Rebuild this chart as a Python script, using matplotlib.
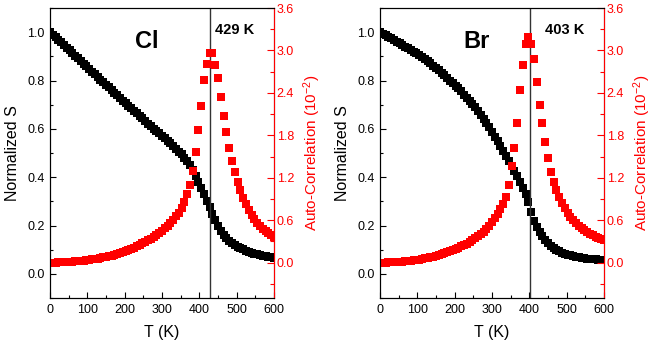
import matplotlib
matplotlib.use("Agg")
import matplotlib.pyplot as plt
from matplotlib.ticker import MultipleLocator

plt.rcParams['font.family'] = ['Liberation Sans', 'DejaVu Sans']
plt.rcParams['mathtext.fontset'] = 'custom'
plt.rcParams['mathtext.rm'] = 'Liberation Sans'
plt.rcParams['mathtext.it'] = 'Liberation Sans:italic'

# temperature grid (K)
temps = [0, 7.5, 15, 22.5, 30, 37.5, 45, 52.5, 60, 67.5,
         75, 82.5, 90, 97.5, 105, 112.5, 120, 127.5, 135, 142.5,
         150, 157.5, 165, 172.5, 180, 187.5, 195, 202.5, 210, 217.5,
         225, 232.5, 240, 247.5, 255, 262.5, 270, 277.5, 285, 292.5,
         300, 307.5, 315, 322.5, 330, 337.5, 345, 352.5, 360, 367.5,
         375, 382.5, 390, 397.5, 405, 412.5, 420, 427.5, 435, 442.5,
         450, 457.5, 465, 472.5, 480, 487.5, 495, 502.5, 510, 517.5,
         525, 532.5, 540, 547.5, 555, 562.5, 570, 577.5, 585, 592.5,
         600]

# Cl: normalized S and auto-correlation (10^-2)
s_cl = [1.000, 0.990, 0.980, 0.969, 0.958, 0.947, 0.936, 0.925, 0.914, 0.903,
        0.892, 0.881, 0.870, 0.859, 0.848, 0.837, 0.826, 0.815, 0.804, 0.794,
        0.783, 0.772, 0.761, 0.750, 0.739, 0.728, 0.717, 0.706, 0.695, 0.685,
        0.674, 0.664, 0.653, 0.643, 0.632, 0.622, 0.611, 0.601, 0.591, 0.581,
        0.571, 0.561, 0.551, 0.541, 0.530, 0.518, 0.506, 0.494, 0.481, 0.466,
        0.449, 0.428, 0.404, 0.380, 0.355, 0.329, 0.302, 0.275, 0.248, 0.222,
        0.198, 0.178, 0.161, 0.147, 0.136, 0.127, 0.119, 0.112, 0.106, 0.101,
        0.096, 0.092, 0.088, 0.084, 0.081, 0.078, 0.075, 0.073, 0.070, 0.068,
        0.066]
ac_cl = [0.000, 0.000, 0.001, 0.003, 0.005, 0.007, 0.009, 0.012, 0.015, 0.018,
         0.021, 0.025, 0.029, 0.034, 0.039, 0.045, 0.051, 0.058, 0.065, 0.073,
         0.081, 0.090, 0.100, 0.111, 0.123, 0.136, 0.150, 0.165, 0.181, 0.197,
         0.214, 0.232, 0.251, 0.271, 0.292, 0.315, 0.339, 0.364, 0.391, 0.420,
         0.452, 0.486, 0.523, 0.563, 0.607, 0.655, 0.708, 0.775, 0.860, 0.970,
         1.100, 1.290, 1.560, 1.870, 2.210, 2.580, 2.810, 2.960, 2.960, 2.800,
         2.610, 2.340, 2.070, 1.840, 1.620, 1.430, 1.280, 1.140, 1.020, 0.915,
         0.825, 0.748, 0.680, 0.620, 0.566, 0.520, 0.480, 0.445, 0.415, 0.388,
         0.365]

# Br: normalized S and auto-correlation (10^-2)
s_br = [1.000, 0.994, 0.988, 0.982, 0.975, 0.968, 0.961, 0.954, 0.947, 0.940,
        0.933, 0.927, 0.919, 0.912, 0.904, 0.896, 0.888, 0.880, 0.871, 0.862,
        0.852, 0.843, 0.833, 0.822, 0.811, 0.800, 0.789, 0.778, 0.767, 0.755,
        0.742, 0.729, 0.716, 0.703, 0.689, 0.673, 0.657, 0.640, 0.623, 0.606,
        0.588, 0.568, 0.548, 0.529, 0.509, 0.489, 0.469, 0.447, 0.426, 0.405,
        0.381, 0.357, 0.330, 0.296, 0.255, 0.220, 0.195, 0.174, 0.155, 0.139,
        0.126, 0.115, 0.107, 0.100, 0.093, 0.088, 0.084, 0.080, 0.077, 0.074,
        0.071, 0.069, 0.067, 0.065, 0.063, 0.062, 0.061, 0.060, 0.059, 0.058,
        0.058]
ac_br = [0.000, 0.000, 0.002, 0.004, 0.006, 0.008, 0.010, 0.013, 0.016, 0.019,
         0.023, 0.027, 0.033, 0.038, 0.044, 0.051, 0.059, 0.067, 0.076, 0.085,
         0.095, 0.106, 0.118, 0.131, 0.145, 0.160, 0.176, 0.193, 0.212, 0.232,
         0.245, 0.267, 0.290, 0.315, 0.342, 0.372, 0.405, 0.440, 0.480, 0.525,
         0.572, 0.626, 0.690, 0.760, 0.830, 0.935, 1.100, 1.370, 1.625, 1.970,
         2.440, 2.800, 3.090, 3.190, 3.090, 2.880, 2.550, 2.235, 1.970, 1.700,
         1.480, 1.286, 1.136, 1.030, 0.935, 0.850, 0.775, 0.708, 0.650, 0.600,
         0.556, 0.518, 0.484, 0.455, 0.429, 0.406, 0.386, 0.368, 0.352, 0.338,
         0.325]

tc_cl = 429
tc_br = 403


def desenhar_painel(fig, pos, s, ac, tc, nome):
    ax = fig.add_axes(pos)
    ax.plot(temps, s, 's', color='black', markersize=6.3, markeredgewidth=0)
    ax.axvline(tc, color='#333333', lw=1.0)

    ax.set_xlim(0, 600)
    ax.set_ylim(-0.1, 1.1)
    ax.xaxis.set_major_locator(MultipleLocator(100))
    ax.xaxis.set_minor_locator(MultipleLocator(50))
    ax.yaxis.set_major_locator(MultipleLocator(0.2))
    ax.yaxis.set_minor_locator(MultipleLocator(0.1))
    ax.yaxis.set_major_formatter('{x:.1f}')
    ax.tick_params(which='both', direction='in', top=False, right=False,
                   labelsize=9, width=0.8)
    ax.tick_params(which='major', length=4, pad=4)
    ax.tick_params(which='minor', length=2.5)
    ax.set_xlabel('T (K)', fontsize=11.5, labelpad=7)
    ax.set_ylabel('Normalized S', fontsize=11.5, labelpad=5)
    for sp in ax.spines.values():
        sp.set_linewidth(0.8)

    ax.text(260, 0.96, nome, fontsize=17, fontweight='bold',
            ha='center', va='center')
    ax.text(441, 1.01, str(tc) + ' K', fontsize=10.5, fontweight='bold',
            ha='left', va='center')

    ax2 = ax.twinx()
    ax2.plot(temps, ac, 's', color='red', markersize=6.3, markeredgewidth=0)
    ax2.set_ylim(-0.5, 3.6)
    ax2.yaxis.set_major_locator(MultipleLocator(0.6))
    ax2.yaxis.set_minor_locator(MultipleLocator(0.3))
    ax2.yaxis.set_major_formatter('{x:.1f}')
    ax2.tick_params(which='both', direction='in', colors='red',
                    labelsize=9, width=0.8)
    ax2.tick_params(which='major', length=5, pad=2)
    ax2.tick_params(which='minor', length=3)
    for sp in ax2.spines.values():
        sp.set_linewidth(0.8)
    ax2.spines['right'].set_color('red')
    ax2.set_ylabel('Auto-Correlation (10$^{-2}$)', color='red',
                   fontsize=11, labelpad=5)
    return ax, ax2


fig = plt.figure(figsize=(6.54, 3.44), dpi=100)
desenhar_painel(fig, [0.0765, 0.1337, 0.3425, 0.843], s_cl, ac_cl, tc_cl, 'Cl')
desenhar_painel(fig, [0.581, 0.1337, 0.3425, 0.843], s_br, ac_br, tc_br, 'Br')
fig.savefig('out.png', dpi=100)
